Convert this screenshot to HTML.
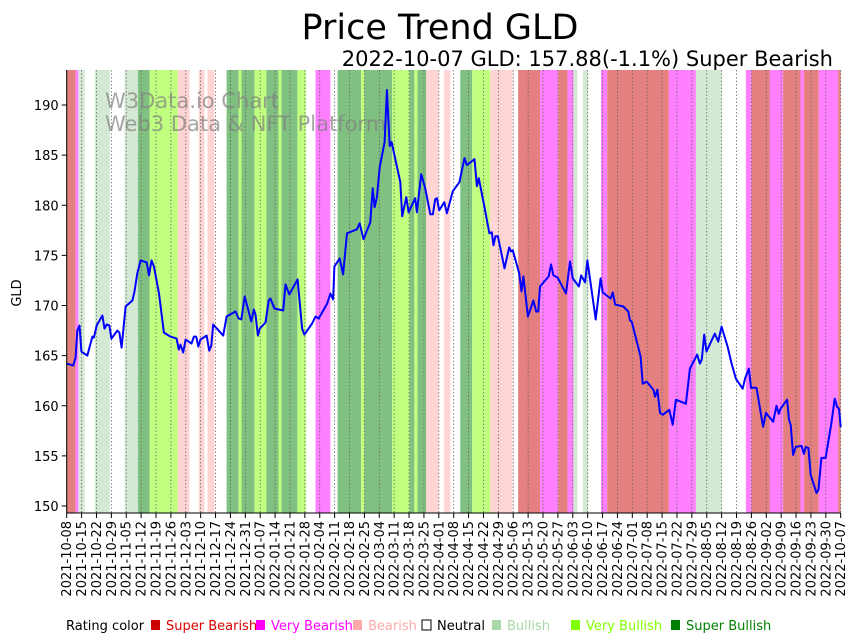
<!DOCTYPE html>
<html><head><meta charset="utf-8"><style>
body{margin:0;background:#fff;width:857px;height:641px;overflow:hidden}
svg{display:block;font-family:"DejaVu Sans","Liberation Sans",sans-serif}
</style></head><body>
<svg id="chart" width="857" height="641">
<text x="440" y="39" font-size="35" text-anchor="middle" fill="#000">Price Trend GLD</text>
<text x="833" y="66" font-size="21" text-anchor="end" fill="#000">2022-10-07 GLD: 157.88(-1.1%) Super Bearish</text>
<g id="bands"></g>
<g id="grid"></g>
<g fill="#808080" fill-opacity="0.7" font-size="21">
<text x="105" y="108">W3Data.io Chart</text><text x="105" y="131">Web3 Data &amp; NFT Platform</text></g>
<path id="line" fill="none" stroke="#0000ff" stroke-width="2" stroke-linejoin="round"/>
<g id="yaxis"></g>
<g id="xaxis"></g>
<text transform="translate(21,293) rotate(-90)" font-size="13" text-anchor="middle">GLD</text>
<g id="legend" font-size="13"></g>
</svg>
<script>
const days=[0,3.1,4.2,5.0,6.0,6.9,9.7,12.1,12.8,14.1,16.8,17.8,18.8,20.1,21.0,23.8,24.8,25.8,27.7,30.9,31.9,33.2,34.8,37.6,38.7,39.9,41.0,43.4,45.7,48.8,51.7,52.7,53.5,54.8,55.9,58.7,59.8,60.9,61.9,62.9,65.8,67.0,68.0,68.9,73.6,75.2,79.4,80.9,82.1,83.7,86.8,88.0,88.8,89.9,90.8,93.5,95.0,95.8,97.7,101.8,102.9,104.7,108.6,110.7,111.8,115.4,117.0,118.5,122.5,124.0,125.3,125.9,128.4,130.0,131.8,136.5,137.8,139.6,142.8,143.9,144.8,145.9,147.2,149.5,150.6,151.9,152.8,156.9,157.8,159.7,160.8,163.9,164.7,166.7,168.6,171.0,172.2,173.3,174.1,175.2,177.6,178.8,181.6,184.7,187.1,188.2,191.8,192.9,193.8,196.0,198.8,199.9,200.7,201.6,202.8,205.9,208.1,208.9,209.8,212.8,213.9,214.8,216.9,219.5,220.8,221.8,222.6,226.7,227.8,228.9,230.8,234.8,236.7,238.0,240.9,241.9,243.8,244.9,248.8,251.1,252.1,255.8,256.8,257.9,261.8,264.1,264.9,265.7,269.9,270.9,272.8,275.9,276.7,277.8,279.0,280.3,283.4,285.0,286.5,291.2,293.1,296.5,297.8,298.7,299.8,300.9,304.8,306.4,308.0,310.8,312.7,314.7,317.9,319.0,320.8,321.8,324.4,327.5,328.8,332.2,333.8,334.9,335.7,338.8,339.7,340.5,341.6,342.9,345.6,346.7,347.6,348.8,349.9,352.6,353.5,354.9,356.9,359.6,361.2,362.3,363.2,364];
const prices=[164.2,164.0,164.8,167.5,168.0,165.4,165.0,166.9,166.8,168.0,169.0,167.7,168.1,168.0,166.7,167.5,167.3,165.8,169.9,170.5,171.4,173.2,174.5,174.3,173.0,174.5,173.9,171.2,167.3,166.9,166.7,165.6,166.1,165.3,166.6,166.2,166.9,166.9,165.9,166.6,167.0,165.5,166.0,168.1,167.0,168.9,169.4,168.7,168.6,170.9,168.4,169.6,169.1,167.0,167.7,168.3,170.5,170.7,169.7,169.5,172.1,171.1,172.6,167.7,167.1,168.2,168.9,168.7,170.2,171.2,170.6,173.9,174.7,173.1,177.2,177.6,178.2,176.6,178.3,181.7,179.8,180.8,183.8,186.3,191.5,185.9,186.3,182.3,178.9,180.8,179.3,180.7,179.3,183.1,181.7,179.1,179.1,180.6,180.7,179.5,180.3,179.2,181.4,182.3,184.7,184.0,184.6,181.9,182.7,180.3,177.2,177.3,176.0,176.9,176.9,173.7,175.8,175.4,175.5,173.2,171.4,172.9,168.9,170.5,169.4,169.4,171.9,172.9,174.1,173.0,172.8,171.2,174.4,172.7,171.9,173.0,172.3,174.5,168.6,172.7,171.3,170.7,171.3,170.1,169.9,169.4,168.5,168.4,164.9,162.2,162.4,161.6,160.9,161.6,159.3,159.1,159.6,158.1,160.6,160.2,163.7,165.1,164.2,164.6,167.1,165.4,167.2,166.4,167.9,165.9,164.2,162.7,161.7,162.7,163.7,161.8,161.8,157.9,159.3,158.4,160.0,159.2,159.7,160.6,158.6,158.1,155.1,155.9,156.0,155.2,155.9,155.8,153.1,151.3,151.6,154.8,154.8,158.2,160.7,159.9,159.7,157.88];
const bandStart=[0,4.2,5.6,13.2,27.2,33.5,39.0,52.3,62.1,66.2,75.2,80.9,82.2,88.3,93.9,99.6,101.0,108.5,117.0,127.4,138.4,140.0,153.0,161.2,163.5,165.0,169.1,177.5,185.1,190.7,199.2,212.3,222.6,231.2,235.5,238.3,242.7,251.3,254.2,283.2,295.9,319.4,322.1,330.7,336.9,345.1,346.7,353.7,362.8];
const bandEnd=[4.2,5.5,8.5,20.3,33.5,39.0,52.3,57.8,64.8,69.5,80.9,82.2,88.3,93.9,99.6,101.0,108.5,112.6,124.0,138.4,140.0,153.0,161.2,163.5,165.0,169.1,174.9,180.4,190.7,199.2,209.8,222.6,231.2,235.5,238.3,240.2,245.3,254.2,283.2,295.9,308.0,322.1,330.7,336.9,345.1,346.7,353.7,362.8,364.5];
const bandRating=['sbear','vbear','bull','bull','bull','sbull','vbull','bear','bear','bear','sbull','vbull','sbull','vbull','sbull','vbull','sbull','vbull','vbear','sbull','vbull','sbull','vbull','sbull','vbull','sbull','bear','bear','sbull','vbull','bear','sbear','vbear','sbear','vbear','bull','bull','vbear','sbear','vbear','bull','vbear','sbear','vbear','sbear','vbear','sbear','vbear','sbear'];
const yTicks=[150,155,160,165,170,175,180,185,190];
const legendLabels=['Super Bearish','Very Bearish','Bearish','Neutral','Bullish','Very Bullish','Super Bullish'];
const NS='http://www.w3.org/2000/svg';
const X0=66.7,X1=840.7,D=364,YB=513,YT=70;
const x=d=>X0+(X1-X0)*d/D;
const y=v=>506-(v-150)*10.025;
const bandColor={sbear:'#e58080',vbear:'#ff80ff',bear:'#ffd4d4',bull:'#d4e9d4',vbull:'#c0ff80',sbull:'#80c080'};
function mk(t,a,p){const e=document.createElementNS(NS,t);for(const k in a)e.setAttribute(k,a[k]);p.appendChild(e);return e;}
const bands=document.getElementById('bands');
bandStart.forEach((s,i)=>{const r=mk('rect',{x:x(s),y:YT,width:Math.max(0,x(Math.min(bandEnd[i],364))-x(s)),height:YB-YT,fill:bandColor[bandRating[i]]},bands);

});
const grid=document.getElementById('grid'),xa=document.getElementById('xaxis');
const start=new Date(Date.UTC(2021,9,8));
for(let d=0;d<=364;d+=7){const xx=x(d);
const g=mk('line',{x1:xx,x2:xx,y1:YT,y2:YB,stroke:'#666','stroke-width':0.8,'stroke-dasharray':'1.5,2'},grid);


mk('line',{x1:xx,x2:xx,y1:YB,y2:YB+5,stroke:'#000','stroke-width':1},xa);
const dt=new Date(start.getTime()+d*864e5).toISOString().slice(0,10);
const t=mk('text',{transform:`translate(${xx+4.5},${YB+8}) rotate(-90)`,'font-size':13,'text-anchor':'end'},xa);t.textContent=dt;

}
mk('line',{x1:X0,x2:X1,y1:YB,y2:YB,stroke:'#000','stroke-width':1},xa);
const ya=document.getElementById('yaxis');
mk('line',{x1:X0,x2:X0,y1:YT,y2:YB,stroke:'#000','stroke-width':1},ya);
yTicks.forEach(v=>{mk('line',{x1:X0-5,x2:X0,y1:y(v),y2:y(v),stroke:'#000'},ya);
const t=mk('text',{x:X0-8,y:y(v)+5,'font-size':13,'text-anchor':'end'},ya);t.textContent=v;

});
document.getElementById('line').setAttribute('d',days.map((d,i)=>(i?'L':'M')+x(d).toFixed(1)+','+y(prices[i]).toFixed(1)).join(''));
const lg=document.getElementById('legend');
const lc=['#cc0000','#ff00ff','#ffaaaa','#ffffff','#a8d8a8','#80ff00','#008000'];
const tc=['#dd0000','#ff00ff','#ffaaaa','#000000','#a8d8a8','#80ff00','#008000'];
const lx=[151,256,353,422,492,571,671];
const t0=mk('text',{x:66,y:630},lg);t0.textContent='Rating color';
legendLabels.forEach((s,i)=>{const r=mk('rect',{x:lx[i],y:620,width:9,height:10,fill:lc[i],stroke:i==3?'#000':'none','stroke-width':1},lg);


const t=mk('text',{x:lx[i]+15,y:630,fill:tc[i]},lg);t.textContent=s;

});
</script>
</body></html>
